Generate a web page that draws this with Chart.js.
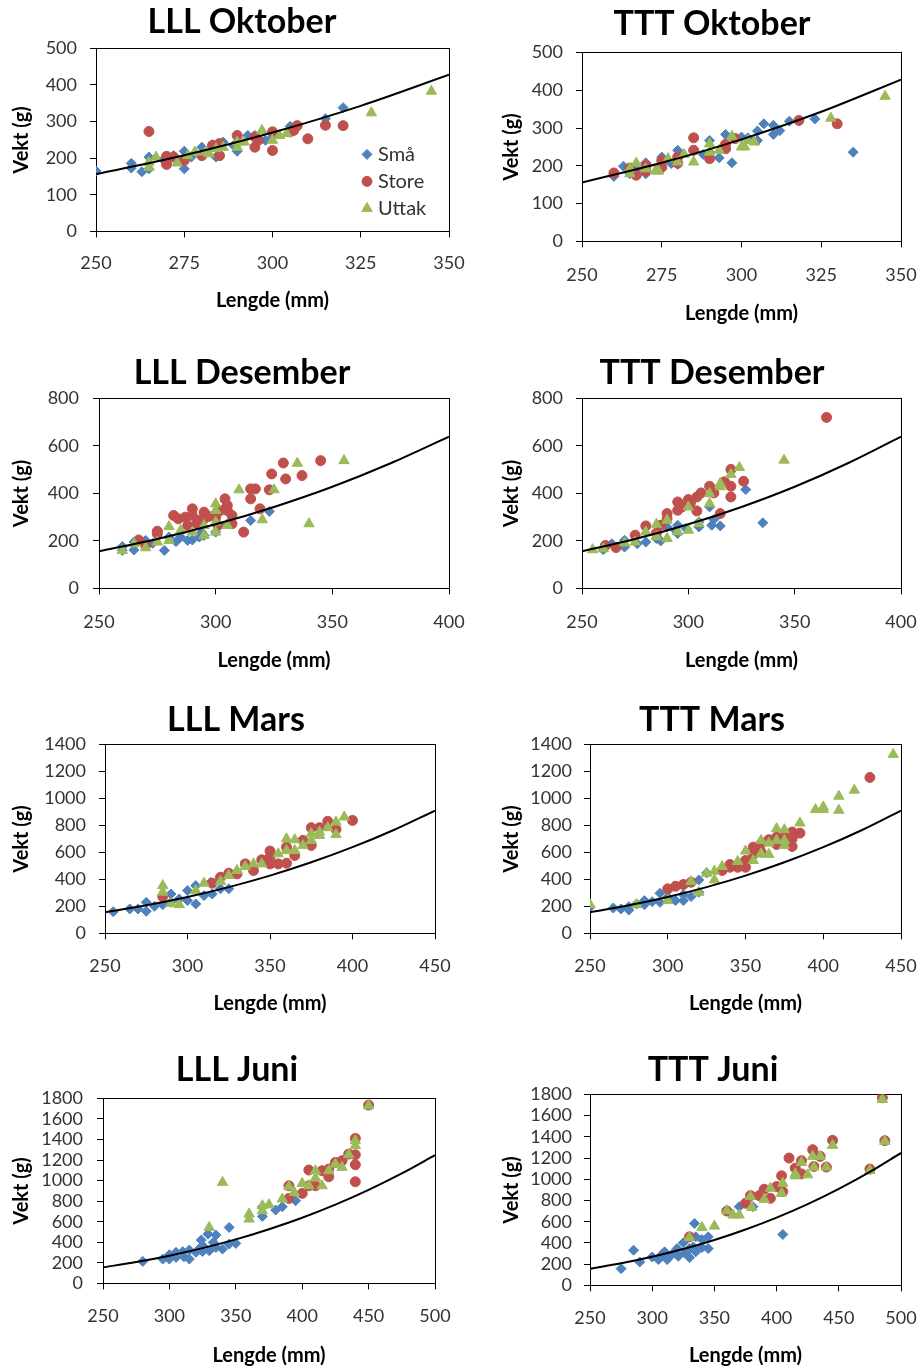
<!DOCTYPE html>
<html lang="no">
<head>
<meta charset="utf-8">
<title>Lengde og vekt</title>
<script src="https://cdn.jsdelivr.net/npm/chart.js@4.4.1/dist/chart.umd.min.js"></script>
<style>
  html, body { margin: 0; padding: 0; background: #fff; }
  #page { position: relative; width: 919px; height: 1366px; overflow: hidden; }
  .panel { position: absolute; }
</style>
</head>
<body>
<div id="page"></div>
<script>
// ---- data: [lengde (mm), vekt (g)] ----
const lllOktSma = [[250,165],[260,186],[260,173],[263,163],[265,203],[265,171],[269,196],[272,207],[275,219],[275,171],[277,203],[280,230],[280,212],[283,237],[284,203],[286,244],[289,235],[290,219],[293,262],[295,262],[298,249],[300,258],[305,287],[315,308],[320,338]];
const lllOktStore = [[265,273],[270,205],[270,183],[272,203],[275,194],[280,207],[283,235],[285,240],[285,207],[290,262],[295,258],[295,230],[296,249],[300,272],[300,221],[305,272],[306,276],[307,289],[310,253],[315,290],[320,289]];
const lllOktUttak = [[265,189],[265,175],[267,203],[273,187],[276,207],[278,217],[281,217],[282,212],[284,226],[286,230],[290,244],[290,230],[292,244],[297,276],[300,249],[302,262],[304,267],[328,324],[345,383]];

const tttOktSma = [[260,172],[263,199],[265,179],[267,192],[270,208],[270,179],[275,223],[275,192],[278,206],[280,241],[280,204],[285,241],[288,230],[290,267],[290,236],[293,221],[295,283],[297,208],[300,276],[302,274],[305,292],[305,267],[307,311],[310,307],[310,283],[312,293],[315,318],[323,324],[335,236]];
const tttOktStore = [[260,181],[265,194],[267,175],[270,201],[270,186],[275,214],[275,197],[280,207],[280,223],[285,274],[285,241],[290,219],[295,245],[295,257],[298,272],[318,320],[330,311]];
const tttOktUttak = [[265,179],[265,192],[267,207],[270,192],[273,186],[274,186],[277,219],[280,210],[282,230],[285,210],[290,258],[290,236],[293,241],[297,278],[300,250],[301,250],[302,267],[304,263],[328,326],[345,384]];

const lllDesSma = [[260,160],[260,176],[265,195],[265,162],[270,202],[273,190],[278,160],[280,216],[283,197],[285,216],[288,202],[290,204],[293,216],[294,237],[295,223],[300,237],[305,272],[315,286],[323,324]];
const lllDesStore = [[267,204],[270,181],[275,241],[275,230],[282,307],[284,293],[287,300],[288,265],[290,335],[290,307],[292,272],[293,286],[295,321],[295,293],[297,303],[300,300],[301,265],[302,328],[304,377],[305,349],[305,328],[307,307],[307,272],[312,237],[315,419],[315,377],[317,419],[319,335],[323,415],[324,482],[329,528],[330,461],[337,475],[345,538]];
const lllDesUttak = [[260,160],[265,188],[270,171],[275,195],[280,260],[280,202],[285,244],[290,237],[295,265],[295,223],[300,356],[300,328],[300,279],[300,237],[305,265],[310,415],[320,289],[325,415],[335,527],[340,272],[355,538]];

const tttDesSma = [[260,163],[264,188],[270,203],[270,174],[276,188],[280,195],[285,210],[287,200],[290,259],[294,245],[295,266],[295,231],[299,252],[305,259],[305,280],[310,343],[311,266],[312,290],[315,263],[327,416],[335,276]];
const tttDesStore = [[261,181],[266,172],[275,224],[280,263],[285,233],[287,266],[290,315],[290,294],[295,364],[295,329],[297,343],[300,374],[301,360],[304,385],[304,326],[306,402],[310,430],[312,402],[315,315],[317,449],[320,501],[320,385],[320,430],[326,451],[365,720]];
const tttDesUttak = [[255,163],[260,167],[270,191],[275,195],[280,238],[285,270],[285,217],[290,287],[290,210],[295,238],[300,343],[300,245],[305,273],[310,399],[310,357],[315,428],[315,442],[320,480],[324,509],[345,540]];

const lllMarSma = [[255,161],[265,181],[270,181],[275,230],[275,164],[280,201],[285,213],[290,292],[290,230],[295,255],[300,317],[300,243],[305,354],[305,218],[310,280],[314,379],[315,292],[320,330],[325,330]];
const lllMarStore = [[285,273],[315,372],[320,416],[325,446],[330,441],[335,515],[340,466],[345,545],[350,610],[350,515],[350,565],[355,515],[360,520],[360,639],[365,577],[370,689],[375,783],[375,652],[380,783],[385,830],[390,771],[400,837]];
const lllMarUttak = [[285,354],[285,305],[290,223],[295,213],[305,317],[310,372],[320,384],[325,429],[330,466],[335,496],[340,515],[345,515],[355,590],[360,701],[360,614],[365,694],[365,614],[370,652],[375,738],[375,689],[380,751],[380,726],[385,783],[390,825],[390,733],[395,862]];

const tttMarSma = [[250,195],[265,188],[270,181],[275,198],[275,173],[280,218],[285,243],[285,213],[290,235],[295,297],[295,230],[300,268],[305,243],[310,243],[310,287],[315,273],[320,396],[320,305],[325,448]];
const tttMarStore = [[300,330],[305,349],[310,362],[315,379],[335,466],[340,510],[340,490],[345,490],[350,540],[350,490],[355,639],[355,585],[360,664],[360,602],[365,694],[370,659],[370,714],[375,714],[380,751],[380,701],[380,644],[385,743],[430,1155]];
const tttMarUttak = [[250,213],[280,213],[300,243],[315,384],[320,305],[325,446],[330,461],[330,396],[335,496],[345,533],[350,610],[355,540],[360,689],[360,590],[365,669],[365,585],[370,776],[370,689],[375,768],[375,689],[375,652],[385,818],[395,917],[400,937],[400,917],[410,1016],[410,912],[420,1061],[445,1326]];

const lllJunSma = [[280,214],[295,237],[300,279],[300,237],[305,302],[305,253],[310,308],[311,259],[315,324],[315,237],[320,302],[323,344],[324,422],[325,367],[325,311],[329,480],[330,318],[333,399],[335,470],[335,350],[340,334],[345,545],[345,383],[350,389],[370,746],[370,652],[380,714],[385,746],[395,804]];
const lllJunStore = [[390,950],[390,827],[400,876],[405,950],[405,1103],[410,950],[415,1096],[420,1113],[420,1038],[425,1177],[430,1194],[435,1258],[440,1411],[440,1252],[440,1155],[440,989],[450,1735]];
const lllJunUttak = [[330,545],[340,983],[360,675],[360,626],[370,756],[370,707],[375,765],[385,821],[390,941],[394,886],[400,973],[405,950],[410,1096],[410,1025],[415,950],[420,1096],[425,1161],[430,1129],[435,1252],[440,1388],[440,1340],[450,1729]];

const tttJunSma = [[275,158],[285,332],[290,221],[300,268],[305,243],[308,294],[310,316],[312,243],[316,294],[320,347],[321,275],[325,401],[326,306],[330,347],[330,262],[333,363],[334,584],[335,458],[335,316],[340,433],[340,357],[345,458],[345,347],[370,742],[381,742],[405,480]];
const tttJunStore = [[330,458],[360,701],[375,774],[379,846],[386,846],[390,906],[395,821],[400,931],[404,1033],[405,884],[410,1200],[415,1105],[420,1175],[420,1051],[429,1279],[430,1121],[435,1216],[440,1115],[445,1367],[475,1096],[485,1768],[487,1364]];
const tttJunUttak = [[330,452],[340,546],[350,559],[360,704],[365,663],[370,663],[379,837],[380,736],[390,811],[395,916],[404,868],[405,963],[415,1051],[415,1032],[420,1159],[425,1042],[429,1216],[430,1115],[435,1216],[440,1115],[445,1320],[475,1083],[485,1753],[487,1358]];

// reference curve (standard vekt)
const curveLengde = [250, 275, 300, 325, 350, 375, 400, 425, 450, 475, 500];
const curveVekt = [156, 208, 270, 343, 428, 527, 639, 766, 910, 1070, 1248];

// axis ticks
const xTicksOkt = [250, 275, 300, 325, 350];
const xTicksDes = [250, 300, 350, 400];
const xTicksMar = [250, 300, 350, 400, 450];
const xTicksJun = [250, 300, 350, 400, 450, 500];
const yTicksOkt = [0, 100, 200, 300, 400, 500];
const yTicksDes = [0, 200, 400, 600, 800];
const yTicksMar = [0, 200, 400, 600, 800, 1000, 1200, 1400];
const yTicksJun = [0, 200, 400, 600, 800, 1000, 1200, 1400, 1600, 1800];

const seriesNames = ['Små', 'Store', 'Uttak'];

// ---- style / layout ----
const FONT = 'Lato, "Open Sans", sans-serif';
const TICK_COLOR = '#333333';
const SERIES_STYLE = [
  { color: '#4F81BD', pointStyle: 'rectRot', radius: 5, order: 3 },
  { color: '#C0504D', pointStyle: 'circle', radius: 5, order: 2 },
  { color: '#9BBB59', pointStyle: 'triangle', radius: 6, order: 1 }
];
const TITLE_SIZE = 34, TITLE_LH = TITLE_SIZE * 1.2, TITLE_PAD_TOP = 2;
const TICK_SIZE = 18, TICK_LH = TICK_SIZE * 1.2, TICK_LEN = 6;
const AXIS_TITLE_SIZE = 20, AXIS_TITLE_LH = AXIS_TITLE_SIZE * 1.2;
const LEGEND_SIZE = 20;
const PAD_RIGHT = 45;

// area = plot box [left, top, right, bottom] in page pixels
const PANELS = [
  { title: 'LLL Oktober', series: [lllOktSma, lllOktStore, lllOktUttak], xTicks: xTicksOkt, yTicks: yTicksOkt, legend: true,
    x: 0, titleCx: 242, titleMid: 22, area: [96, 48, 449, 231], xTickMid: 263, xTitleMid: 300, yTickRight: 77, yTitleX: 22 },
  { title: 'TTT Oktober', series: [tttOktSma, tttOktStore, tttOktUttak], xTicks: xTicksOkt, yTicks: yTicksOkt,
    x: 495, titleCx: 712, titleMid: 24, area: [582, 52, 901, 241], xTickMid: 275, xTitleMid: 313, yTickRight: 563, yTitleX: 512 },
  { title: 'LLL Desember', series: [lllDesSma, lllDesStore, lllDesUttak], xTicks: xTicksDes, yTicks: yTicksDes,
    x: 0, titleCx: 242, titleMid: 373, area: [99, 398, 449, 588], xTickMid: 622, xTitleMid: 660, yTickRight: 79, yTitleX: 22 },
  { title: 'TTT Desember', series: [tttDesSma, tttDesStore, tttDesUttak], xTicks: xTicksDes, yTicks: yTicksDes,
    x: 495, titleCx: 712, titleMid: 373, area: [582, 398, 901, 588], xTickMid: 622, xTitleMid: 660, yTickRight: 563, yTitleX: 512 },
  { title: 'LLL Mars', series: [lllMarSma, lllMarStore, lllMarUttak], xTicks: xTicksMar, yTicks: yTicksMar,
    x: 0, titleCx: 236, titleMid: 720, area: [105, 744, 435, 933], xTickMid: 966, xTitleMid: 1003, yTickRight: 86, yTitleX: 22 },
  { title: 'TTT Mars', series: [tttMarSma, tttMarStore, tttMarUttak], xTicks: xTicksMar, yTicks: yTicksMar,
    x: 495, titleCx: 712, titleMid: 720, area: [590, 744, 901, 933], xTickMid: 966, xTitleMid: 1003, yTickRight: 572, yTitleX: 512 },
  { title: 'LLL Juni', series: [lllJunSma, lllJunStore, lllJunUttak], xTicks: xTicksJun, yTicks: yTicksJun,
    x: 0, titleCx: 237, titleMid: 1070, area: [103, 1098, 435, 1283], xTickMid: 1316, xTitleMid: 1355, yTickRight: 83, yTitleX: 22 },
  { title: 'TTT Juni', series: [tttJunSma, tttJunStore, tttJunUttak], xTicks: xTicksJun, yTicks: yTicksJun,
    x: 495, titleCx: 713, titleMid: 1070, area: [590, 1094, 901, 1285], xTickMid: 1318, xTitleMid: 1355, yTickRight: 572, yTitleX: 512 }
];

Chart.defaults.font.family = FONT;
Chart.defaults.color = TICK_COLOR;

// black frame round the plot area
const plotFrame = {
  id: 'plotFrame',
  beforeDatasetsDraw(chart) {
    const { ctx, chartArea: a } = chart;
    ctx.save();
    ctx.strokeStyle = '#000';
    ctx.lineWidth = 1;
    ctx.strokeRect(Math.round(a.left) + 0.5, Math.round(a.top) + 0.5,
      Math.round(a.right - a.left), Math.round(a.bottom - a.top));
    ctx.restore();
  }
};

// legend drawn inside the plot (only the first panel has one)
const innerLegend = {
  id: 'innerLegend',
  defaults: { display: false, right: 82, top: 106, row: 27, gap: 11 },
  afterDatasetsDraw(chart, args, opts) {
    if (!opts.display) return;
    const { ctx, chartArea: a } = chart;
    const x = a.right - opts.right;
    let y = a.top + opts.top;
    ctx.save();
    ctx.font = `${LEGEND_SIZE}px ${FONT}`;
    ctx.textBaseline = 'middle';
    ctx.textAlign = 'left';
    chart.data.datasets.filter(ds => ds.label).forEach(ds => {
      ctx.fillStyle = ds.backgroundColor;
      ctx.strokeStyle = ds.borderColor;
      ctx.lineWidth = 1;
      Chart.helpers.drawPoint(ctx, { pointStyle: ds.pointStyle, radius: ds.pointRadius, borderWidth: 1, rotation: 0 }, x, y);
      ctx.fillStyle = TICK_COLOR;
      ctx.fillText(ds.label, x + opts.gap, y);
      y += opts.row;
    });
    ctx.restore();
  }
};

Chart.register(plotFrame, innerLegend);

const page = document.getElementById('page');

function buildPanel(p) {
  const [L, T, R, B] = p.area;
  const top = p.titleMid - TITLE_PAD_TOP - TITLE_LH / 2;
  const height = p.xTitleMid + 12 - top;
  const width = R + PAD_RIGHT - p.x;
  const padLeft = 2 * p.titleCx - R - p.x;   // keeps the title centred where it is in the picture
  const scaleLeft = p.x + padLeft;

  const div = document.createElement('div');
  div.className = 'panel';
  div.style.left = p.x + 'px';
  div.style.top = top + 'px';
  div.style.width = width + 'px';
  div.style.height = height + 'px';
  const canvas = document.createElement('canvas');
  div.appendChild(canvas);
  page.appendChild(div);

  const datasets = p.series.map((rows, i) => ({
    label: seriesNames[i],
    data: rows.map(([x, y]) => ({ x, y })),
    pointStyle: SERIES_STYLE[i].pointStyle,
    pointRadius: SERIES_STYLE[i].radius,
    backgroundColor: SERIES_STYLE[i].color,
    borderColor: SERIES_STYLE[i].color,
    borderWidth: 1,
    order: SERIES_STYLE[i].order
  }));

  datasets.push({
    type: 'line',
    label: '',
    data: curveLengde.map((x, i) => ({ x, y: curveVekt[i] })),
    borderColor: '#000',
    borderWidth: 2,
    pointRadius: 0,
    fill: false,
    cubicInterpolationMode: 'monotone',
    order: 0
  });

  const xLast = p.xTicks[p.xTicks.length - 1];
  const yLast = p.yTicks[p.yTicks.length - 1];

  return new Chart(canvas, {
    type: 'scatter',
    data: { datasets },
    options: {
      responsive: true,
      maintainAspectRatio: false,
      animation: false,
      layout: { padding: { left: padLeft, right: PAD_RIGHT, top: 0, bottom: 0 } },
      plugins: {
        legend: { display: false },
        tooltip: { enabled: false },
        title: {
          display: true,
          text: p.title,
          color: '#000',
          font: { size: TITLE_SIZE, weight: 'bold' },
          padding: { top: TITLE_PAD_TOP, bottom: T - top - TITLE_PAD_TOP - TITLE_LH }
        },
        innerLegend: { display: !!p.legend }
      },
      scales: {
        x: {
          type: 'linear',
          min: p.xTicks[0],
          max: xLast,
          afterBuildTicks: s => { s.ticks = p.xTicks.map(v => ({ value: v })); },
          afterFit: s => { s.height = top + height - B; },
          grid: { drawOnChartArea: false, drawTicks: true, tickLength: TICK_LEN, color: '#000' },
          border: { display: false },
          ticks: {
            padding: p.xTickMid - B - TICK_LEN - TICK_LH / 2,
            color: TICK_COLOR,
            font: { size: TICK_SIZE },
            maxRotation: 0,
            autoSkip: false,
            callback: v => String(v)
          },
          title: {
            display: true,
            text: 'Lengde (mm)',
            color: '#000',
            font: { size: AXIS_TITLE_SIZE, weight: 'bold' },
            padding: { top: 0, bottom: top + height - p.xTitleMid - AXIS_TITLE_LH / 2 }
          }
        },
        y: {
          type: 'linear',
          min: p.yTicks[0],
          max: yLast,
          afterBuildTicks: s => { s.ticks = p.yTicks.map(v => ({ value: v })); },
          afterFit: s => { s.width = L - scaleLeft; },
          grid: { drawOnChartArea: false, drawTicks: true, tickLength: TICK_LEN, color: '#000' },
          border: { display: false },
          ticks: {
            padding: L - TICK_LEN - p.yTickRight,
            color: TICK_COLOR,
            font: { size: TICK_SIZE },
            autoSkip: false,
            callback: v => String(v)
          },
          title: {
            display: true,
            text: 'Vekt (g)',
            color: '#000',
            font: { size: AXIS_TITLE_SIZE, weight: 'bold' },
            padding: { top: p.yTitleX - scaleLeft - AXIS_TITLE_LH / 2, bottom: 0 }
          }
        }
      }
    }
  });
}

const charts = PANELS.map(buildPanel);
</script>
</body>
</html>
